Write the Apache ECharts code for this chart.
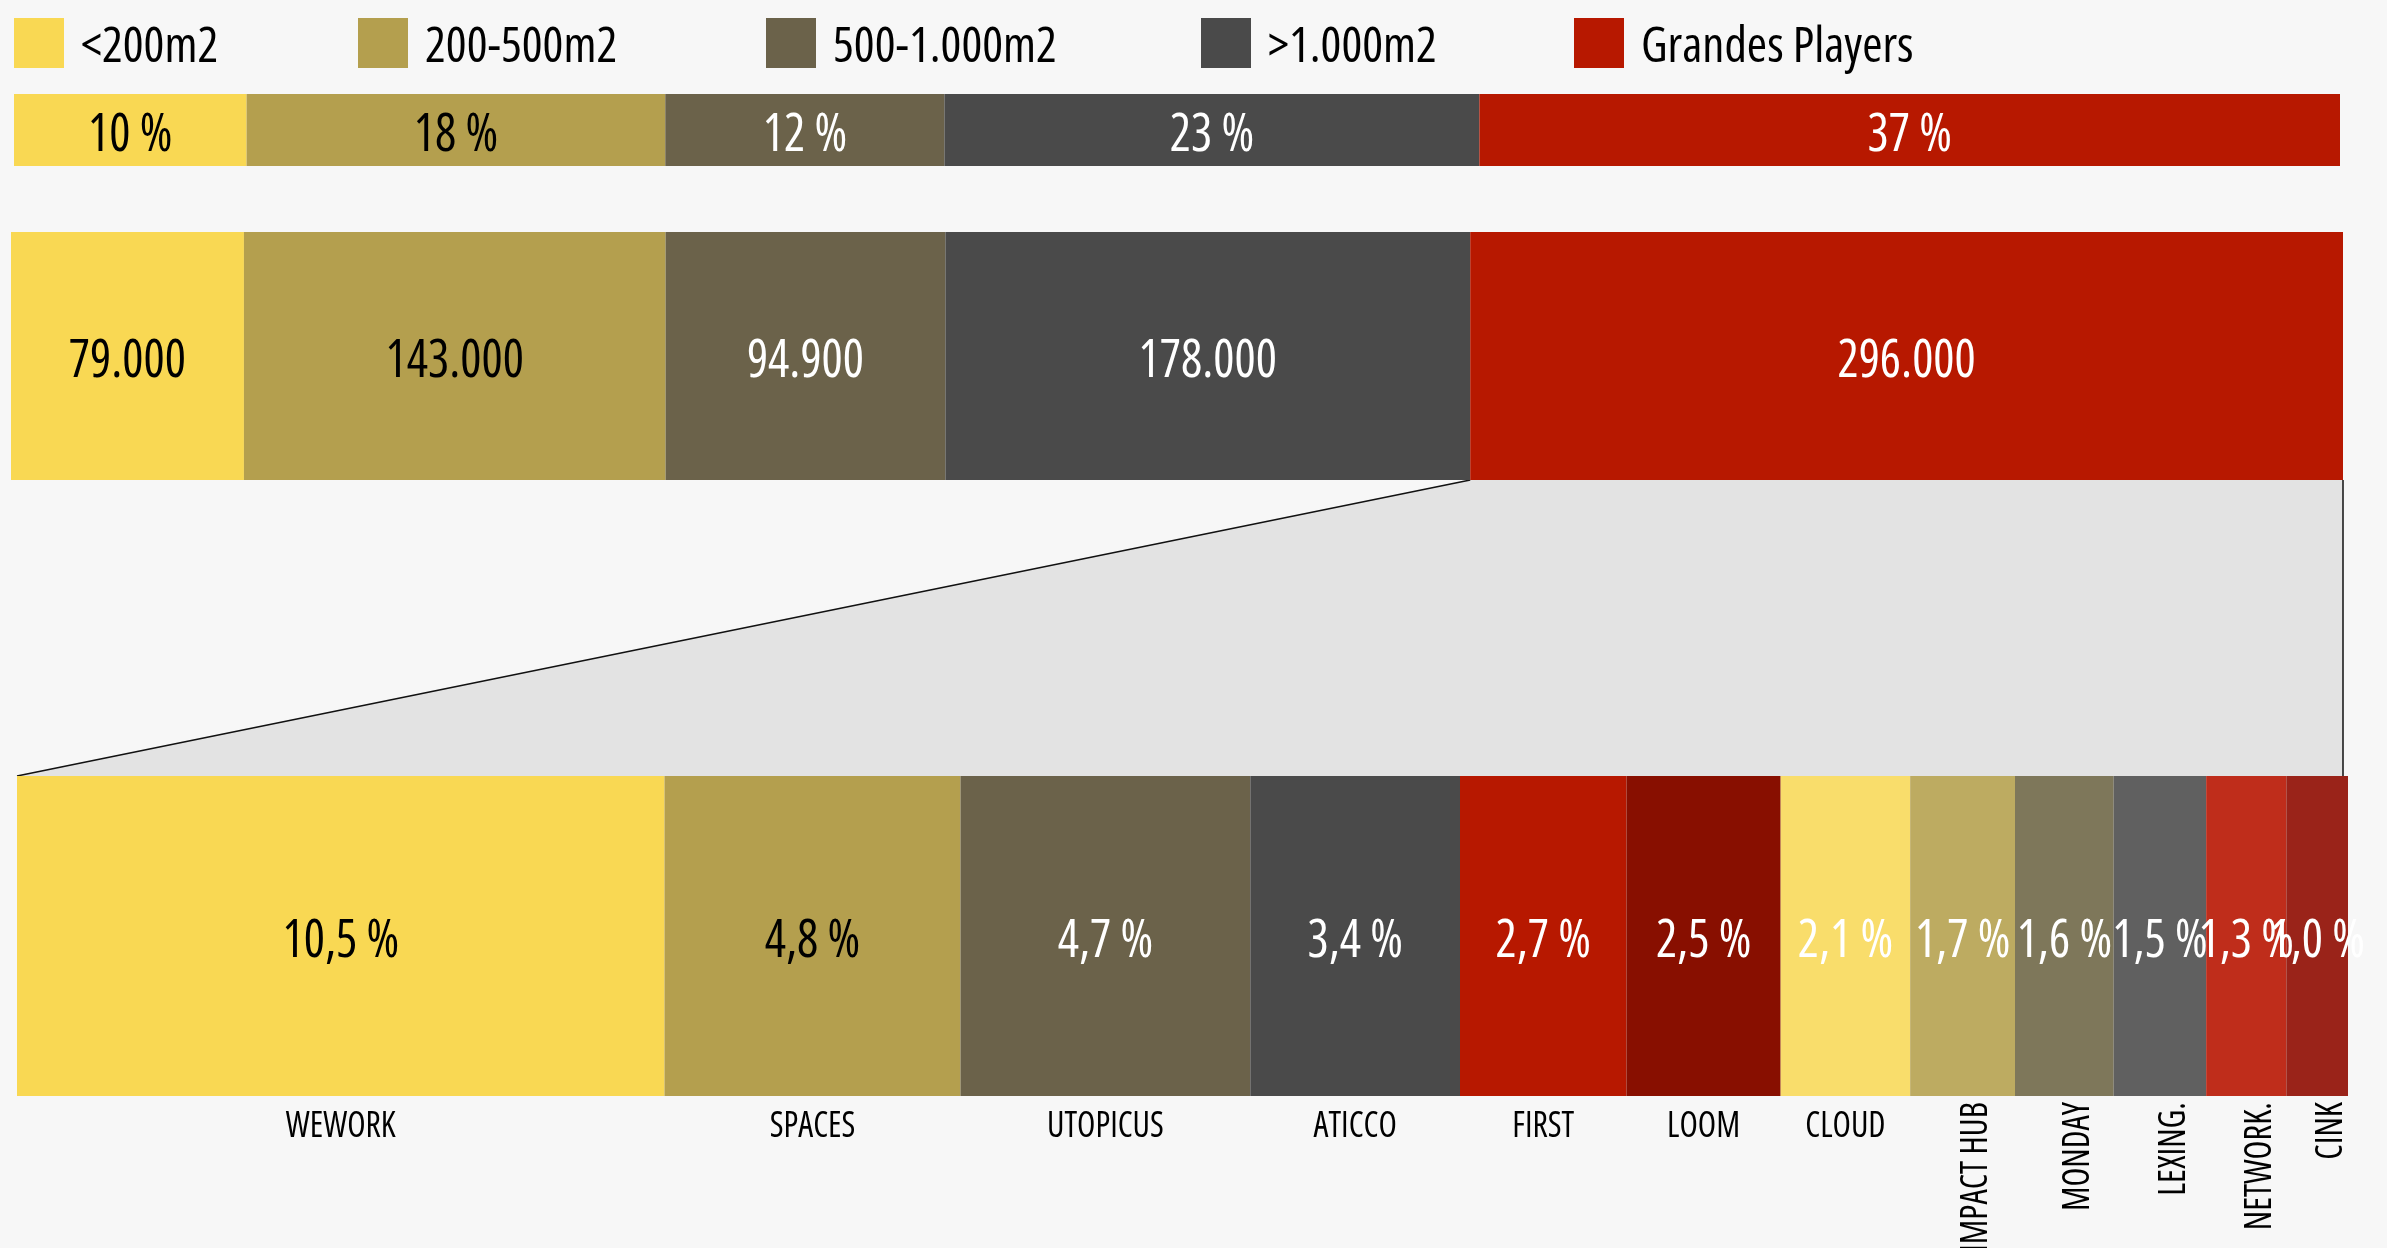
<!DOCTYPE html>
<html>
<head>
<meta charset="utf-8">
<title>Coworking</title>
<script src="https://cdn.jsdelivr.net/npm/echarts@6/dist/echarts.min.js"></script>
<style>
  html, body { margin: 0; padding: 0; background: #f7f7f7; }
  #chart1 { width: 2387px; height: 1248px; }
</style>
</head>
<body>
<div id="chart1"></div>
<script>
// datos
var shareNames = ['<200m2', '200-500m2', '500-1.000m2', '>1.000m2', 'Grandes Players'];
var sharePct = [10, 18, 12, 23, 37];
var shareSurface = [79000, 143000, 94900, 178000, 296000];
var shareColors = ['#f9d853', '#b49f4e', '#6b624a', '#4a4a4a', '#b71800'];
var shareTextColors = ['#000', '#000', '#fff', '#fff', '#fff'];

var playerNames = ['WEWORK', 'SPACES', 'UTOPICUS', 'ATICCO', 'FIRST', 'LOOM', 'CLOUD',
  'IMPACT HUB', 'MONDAY', 'LEXING.', 'NETWORK.', 'CINK'];
var playerPct = [10.5, 4.8, 4.7, 3.4, 2.7, 2.5, 2.1, 1.7, 1.6, 1.5, 1.3, 1.0];
var playerColors = ['#f9d853', '#b49f4e', '#6b624a', '#4a4a4a', '#b71800', '#880f00',
  '#f9dd6b', '#bdab61', '#7e775a', '#606060', '#bf2d1b', '#9a2319'];
var playerTextColors = ['#000', '#000', '#fff', '#fff', '#fff', '#fff',
  '#fff', '#fff', '#fff', '#fff', '#fff', '#fff'];

// fuente estrecha: Open Sans con font-stretch condensed
var FAMILY = "'Open Sans', 'Roboto Condensed', sans-serif";
function font(size) { return 'condensed ' + size + 'px ' + FAMILY; }
var VALUE_SCALE = 0.96;
var NAME_SCALE = 0.91;

function sum(arr) {
  return arr.reduce(function (a, b) { return a + b; }, 0);
}

// [inicio, fin, valor] acumulados
function stackRanges(values) {
  var acc = 0;
  return values.map(function (v) {
    var r = [acc, acc + v, v];
    acc += v;
    return r;
  });
}

function fmtPct(v) { return v + ' %'; }
function fmtPctDec(v) { return v.toFixed(1).replace('.', ',') + ' %'; }
function fmtThousands(v) { return String(v).replace(/\B(?=(\d{3})+(?!\d))/g, '.'); }

function segmentRenderer(opts) {
  return function (params, api) {
    var i = opts.index != null ? opts.index : params.dataIndex;
    var a = api.coord([api.value(0), 0]);
    var b = api.coord([api.value(1), 0]);
    var h = api.size([0, 1])[1];
    var w = b[0] - a[0];
    var cx = (a[0] + b[0]) / 2;
    var children = [{
      type: 'rect',
      z2: 0,
      shape: { x: a[0], y: a[1] - h / 2, width: w, height: h },
      style: { fill: opts.colors[i] }
    }, {
      type: 'text',
      z2: 10,
      x: cx, y: a[1] + 6, scaleX: VALUE_SCALE,
      style: {
        text: opts.format(api.value(2)),
        fill: opts.textColors[i],
        font: font(52),
        align: 'center', verticalAlign: 'middle'
      }
    }];
    if (opts.names) {
      var name = opts.names[i];
      var bottom = a[1] + h / 2;
      if (w > 115) {
        children.push({
          type: 'text', z2: 10,
          x: cx, y: bottom + 30, scaleX: NAME_SCALE,
          style: { text: name, fill: '#000', font: font(37), align: 'center', verticalAlign: 'middle' }
        });
      } else {
        children.push({
          type: 'text', z2: 10,
          x: cx + 14, y: bottom + 6, rotation: Math.PI / 2, scaleX: NAME_SCALE,
          style: { text: name, fill: '#000', font: font(38), align: 'right', verticalAlign: 'middle' }
        });
      }
    }
    return { type: 'group', children: children };
  };
}

var shareRanges = stackRanges(sharePct);
var surfaceRanges = stackRanges(shareSurface);
var playerRanges = stackRanges(playerPct);

var legendLefts = [14, 358, 766, 1201, 1574];

var series = shareNames.map(function (name, i) {
  return {
    name: name,
    type: 'custom',
    xAxisIndex: 0, yAxisIndex: 0,
    itemStyle: { color: shareColors[i] },
    renderItem: segmentRenderer({ index: i, colors: shareColors, textColors: shareTextColors, format: fmtPct }),
    data: [shareRanges[i]]
  };
});
series.push({
  name: 'superficie',
  type: 'custom',
  xAxisIndex: 1, yAxisIndex: 1,
  renderItem: segmentRenderer({ colors: shareColors, textColors: shareTextColors, format: fmtThousands }),
  data: surfaceRanges
});
series.push({
  name: 'players',
  type: 'custom',
  xAxisIndex: 2, yAxisIndex: 2,
  renderItem: segmentRenderer({ colors: playerColors, textColors: playerTextColors, format: fmtPctDec, names: playerNames }),
  data: playerRanges
});

var grids = [
  { left: 14, top: 94, width: 2326, height: 72 },
  { left: 11, top: 232, width: 2332, height: 248 },
  { left: 17, top: 776, width: 2331, height: 320 }
];
var totals = [sum(sharePct), sum(shareSurface), sum(playerPct)];

var myChart = echarts.init(document.getElementById('chart1'));
var option = {
  backgroundColor: '#f7f7f7',
  animation: false,
  legend: shareNames.map(function (name, i) {
    return {
      data: [name],
      left: legendLefts[i], top: 18, padding: 0,
      icon: 'rect', itemWidth: 50, itemHeight: 50,
      selectedMode: false,
      formatter: '{t|{name}}',
      textStyle: {
        fontFamily: FAMILY, fontWeight: 'condensed', fontSize: 49, color: '#000',
        rich: {
          t: { fontFamily: FAMILY, fontWeight: 'condensed', fontSize: 49, color: '#000', padding: [11, 0, 0, 12] }
        }
      }
    };
  }),
  grid: grids,
  xAxis: grids.map(function (g, i) {
    return { type: 'value', gridIndex: i, min: 0, max: totals[i], show: false };
  }),
  yAxis: grids.map(function (g, i) {
    return { type: 'category', gridIndex: i, data: ['x'], show: false };
  }),
  series: series
};
myChart.setOption(option);

// zona de ampliación entre la barra de superficie y la de players
var g1 = grids[1], g2 = grids[2];
var y1 = g1.top + g1.height;
var y2 = g2.top;
var xGP = myChart.convertToPixel({ xAxisIndex: 1 }, surfaceRanges[4][0]);
var xEnd = myChart.convertToPixel({ xAxisIndex: 1 }, surfaceRanges[4][1]);
var xStart2 = myChart.convertToPixel({ xAxisIndex: 2 }, 0);
myChart.setOption({
  graphic: [{
    type: 'polygon', z: 0,
    shape: { points: [[xGP, y1], [xEnd, y1], [xEnd, y2], [xStart2, y2]] },
    style: { fill: '#e3e3e3' }
  }, {
    type: 'line', z: 1,
    shape: { x1: xGP, y1: y1, x2: xStart2, y2: y2 },
    style: { stroke: '#111', lineWidth: 1.5 }
  }, {
    type: 'line', z: 1,
    shape: { x1: xEnd, y1: y1, x2: xEnd, y2: y2 },
    style: { stroke: '#111', lineWidth: 1.5 }
  }]
});
</script>
</body>
</html>
